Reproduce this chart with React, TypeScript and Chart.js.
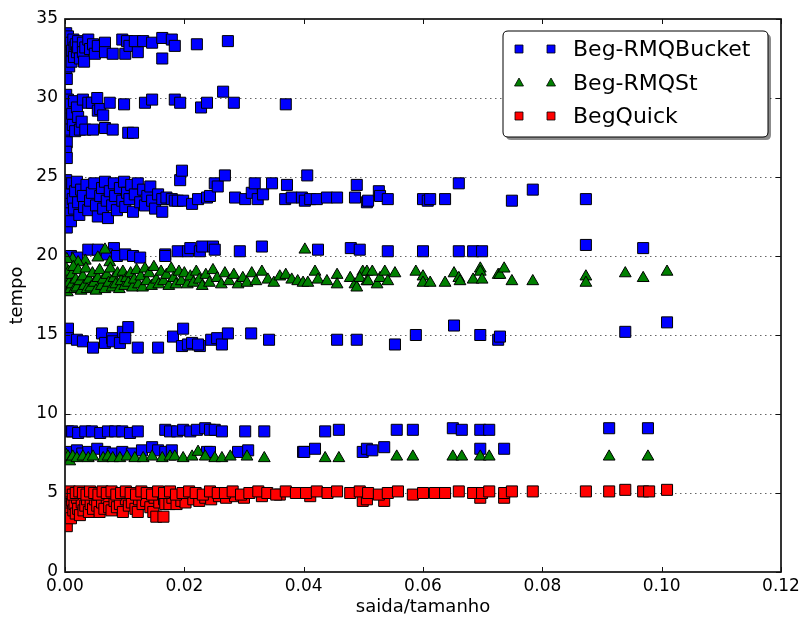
import React, { useEffect, useRef } from 'react';
import { Chart, registerables } from 'chart.js';

Chart.register(...registerables);

type Pt = [number, number];

const seriesLabels = ['Beg-RMQBucket', 'Beg-RMQSt', 'BegQuick'];
const seriesColors = ['#0000ff', '#008000', '#ff0000'];
const xTickValues = [0, 0.02, 0.04, 0.06, 0.08, 0.1, 0.12];
const yTickValues = [0, 5, 10, 15, 20, 25, 30, 35];
const xAxisTitle = 'saida/tamanho';
const yAxisTitle = 'tempo';

// Beg-RMQBucket (blue squares)
const bucketTop: Pt[] = [
  [0.0002, 34.1], [0.0003, 33.6], [0.0002, 33.0], [0.0004, 32.4], [0.0002, 31.8], [0.0003, 31.2],
  [0.0005, 33.9], [0.0006, 33.2], [0.0008, 32.7], [0.0007, 32.0], [0.0010, 33.5], [0.0012, 33.0],
  [0.0011, 32.3], [0.0014, 33.7], [0.0016, 33.2], [0.0015, 32.6], [0.0018, 33.4], [0.0020, 32.9],
  [0.0022, 33.6], [0.0022, 33.2], [0.0025, 32.5], [0.0030, 33.5], [0.0030, 32.9], [0.0032, 32.3],
  [0.0034, 33.2], [0.0039, 33.7], [0.0042, 33.1], [0.0047, 33.4], [0.0050, 32.8], [0.0055, 33.3],
  [0.0067, 33.5], [0.0067, 32.9], [0.0080, 32.8], [0.0096, 33.7], [0.0101, 32.8], [0.0104, 33.6],
  [0.0108, 33.3], [0.0122, 32.9], [0.0117, 33.6], [0.0131, 33.6], [0.0146, 33.5], [0.0163, 33.8],
  [0.0163, 32.5], [0.0179, 33.7], [0.0184, 33.3], [0.0221, 33.4], [0.0273, 33.6],
];
const bucketUpper: Pt[] = [
  [0.0002, 30.2], [0.0003, 29.6], [0.0002, 29.0], [0.0004, 28.4], [0.0002, 27.8], [0.0003, 27.2],
  [0.0002, 26.6], [0.0003, 26.2], [0.0005, 29.9], [0.0006, 29.3], [0.0008, 28.7], [0.0007, 28.0],
  [0.0010, 29.6], [0.0012, 29.0], [0.0013, 28.3], [0.0017, 27.9], [0.0015, 29.8], [0.0020, 29.4],
  [0.0022, 28.8], [0.0025, 28.0], [0.0030, 29.9], [0.0028, 28.5], [0.0034, 28.0], [0.0039, 29.7],
  [0.0045, 29.7], [0.0047, 28.0], [0.0054, 30.0], [0.0055, 29.2], [0.0059, 29.3], [0.0064, 28.9],
  [0.0067, 28.1], [0.0075, 29.7], [0.0080, 28.0], [0.0099, 29.6], [0.0106, 27.8], [0.0114, 27.8],
  [0.0134, 29.7], [0.0146, 29.9], [0.0184, 29.9], [0.0193, 29.7], [0.0228, 29.4], [0.0238, 29.7],
  [0.0265, 30.4], [0.0283, 29.7], [0.0370, 29.6],
];
const bucketMid: Pt[] = [
  [0.0002, 24.8], [0.0003, 24.2], [0.0002, 23.6], [0.0004, 23.0], [0.0002, 22.4], [0.0003, 21.8],
  [0.0005, 24.5], [0.0006, 23.9], [0.0008, 23.3], [0.0007, 22.7], [0.0010, 22.2], [0.0012, 24.6],
  [0.0013, 23.6], [0.0015, 23.0], [0.0017, 24.1], [0.0020, 24.7], [0.0022, 23.4], [0.0024, 22.6],
  [0.0027, 24.2], [0.0030, 23.8], [0.0032, 23.1], [0.0036, 24.5], [0.0039, 22.9], [0.0042, 23.5],
  [0.0045, 24.0], [0.0049, 24.6], [0.0052, 23.2], [0.0055, 22.5], [0.0059, 23.8], [0.0062, 24.3],
  [0.0064, 23.0], [0.0067, 24.7], [0.0070, 23.5], [0.0072, 22.4], [0.0075, 24.1], [0.0079, 23.2],
  [0.0082, 24.6], [0.0084, 23.8], [0.0087, 22.9], [0.0092, 24.3], [0.0096, 23.5], [0.0099, 24.7],
  [0.0101, 23.1], [0.0104, 24.0], [0.0108, 23.6], [0.0111, 24.5], [0.0114, 22.8], [0.0117, 23.9],
  [0.0122, 24.6], [0.0126, 23.4], [0.0131, 24.2], [0.0134, 23.2], [0.0138, 23.8], [0.0143, 24.4],
  [0.0146, 23.5], [0.0151, 23.0], [0.0156, 23.9], [0.0163, 23.6], [0.0163, 22.8], [0.0170, 23.7],
  [0.0179, 23.6], [0.0184, 23.5], [0.0189, 23.5], [0.0193, 24.8], [0.0196, 25.4], [0.0198, 23.5],
  [0.0213, 23.3], [0.0223, 23.6], [0.0238, 23.7], [0.0243, 23.8], [0.0251, 24.6], [0.0256, 24.4],
  [0.0268, 25.1], [0.0285, 23.7], [0.0302, 23.6], [0.0313, 24.0], [0.0318, 24.6], [0.0323, 23.6],
  [0.0332, 23.9], [0.0347, 24.6], [0.0369, 23.6], [0.0372, 24.5], [0.0380, 23.7], [0.0397, 23.7],
  [0.0402, 23.5], [0.0406, 25.1], [0.0411, 23.6], [0.0422, 23.6], [0.0439, 23.7], [0.0456, 23.7],
  [0.0486, 23.7], [0.0489, 24.5], [0.0506, 23.4], [0.0508, 23.5], [0.0526, 24.1], [0.0528, 23.8],
  [0.0541, 23.6], [0.0600, 23.6], [0.0608, 23.5], [0.0612, 23.6], [0.0637, 23.6], [0.0660, 24.6],
  [0.0749, 23.5], [0.0784, 24.2], [0.0873, 23.6],
];
const bucket20: Pt[] = [
  [0.0010, 20.0], [0.0020, 19.9], [0.0039, 20.4], [0.0055, 20.4], [0.0082, 20.5], [0.0070, 20.1],
  [0.0087, 20.0], [0.0101, 20.1], [0.0114, 20.0], [0.0126, 19.9], [0.0168, 20.1], [0.0168, 20.0],
  [0.0189, 20.3], [0.0206, 20.3], [0.0210, 20.5], [0.0226, 20.3], [0.0230, 20.6], [0.0248, 20.6],
  [0.0251, 20.4], [0.0293, 20.3], [0.0330, 20.6], [0.0424, 20.4], [0.0479, 20.5], [0.0494, 20.4],
  [0.0541, 20.3], [0.0600, 20.3], [0.0660, 20.3], [0.0684, 20.3], [0.0699, 20.3], [0.0873, 20.7],
  [0.0969, 20.5],
];
const bucket15: Pt[] = [
  [0.0005, 15.4], [0.0005, 14.8], [0.0020, 14.7], [0.0030, 14.6], [0.0047, 14.2], [0.0062, 15.1],
  [0.0067, 14.5], [0.0079, 14.8], [0.0080, 14.6], [0.0092, 14.5], [0.0097, 15.2], [0.0106, 15.5],
  [0.0101, 14.8], [0.0122, 14.2], [0.0156, 14.2], [0.0181, 14.9], [0.0198, 15.4], [0.0196, 14.3],
  [0.0206, 14.4], [0.0213, 14.5], [0.0226, 14.3], [0.0223, 14.4], [0.0245, 14.7], [0.0255, 14.8],
  [0.0263, 14.4], [0.0273, 15.1], [0.0312, 15.1], [0.0342, 14.7], [0.0456, 14.7], [0.0489, 14.7],
  [0.0553, 14.4], [0.0588, 15.0], [0.0652, 15.6], [0.0696, 15.0], [0.0726, 14.7], [0.0729, 14.9],
  [0.0939, 15.2], [0.1009, 15.8],
];
const bucket9: Pt[] = [
  [0.0005, 8.9], [0.0012, 8.9], [0.0022, 8.8], [0.0034, 8.9], [0.0045, 8.9], [0.0059, 8.8],
  [0.0072, 8.9], [0.0084, 8.9], [0.0096, 8.9], [0.0109, 8.8], [0.0122, 8.9], [0.0168, 9.0],
  [0.0176, 8.9], [0.0188, 8.9], [0.0198, 9.0], [0.0210, 8.9], [0.0221, 9.0], [0.0235, 9.1],
  [0.0243, 9.0], [0.0251, 9.0], [0.0263, 8.9], [0.0302, 8.9], [0.0334, 8.9], [0.0436, 8.9],
  [0.0459, 9.0], [0.0556, 9.0], [0.0583, 9.0], [0.0650, 9.1], [0.0665, 9.0], [0.0696, 9.0],
  [0.0711, 9.0], [0.0912, 9.1], [0.0977, 9.1],
];
const bucket7: Pt[] = [
  [0.0008, 7.6], [0.0020, 7.7], [0.0029, 7.5], [0.0039, 7.6], [0.0054, 7.8], [0.0067, 7.6],
  [0.0080, 7.5], [0.0096, 7.6], [0.0112, 7.5], [0.0129, 7.7], [0.0146, 7.9], [0.0156, 7.7],
  [0.0168, 7.6], [0.0179, 7.7], [0.0238, 7.6], [0.0243, 7.6], [0.0290, 7.6], [0.0307, 7.7],
  [0.0399, 7.6], [0.0401, 7.6], [0.0419, 7.8], [0.0499, 7.6], [0.0506, 7.8], [0.0515, 7.7],
  [0.0535, 7.9], [0.0696, 7.8], [0.0736, 7.8],
];

// Beg-RMQSt (green triangles)
const st18: Pt[] = [
  [0.0067, 20.4], [0.0055, 19.9], [0.0075, 19.6], [0.0034, 19.7], [0.0013, 19.8], [0.0022, 19.6],
  [0.0003, 19.8], [0.0002, 19.2], [0.0003, 18.6], [0.0002, 18.0], [0.0004, 17.7], [0.0006, 19.0],
  [0.0007, 18.3], [0.0009, 17.9], [0.0011, 18.8], [0.0012, 18.2], [0.0014, 19.3], [0.0016, 17.9],
  [0.0018, 18.5], [0.0020, 18.0], [0.0022, 19.1], [0.0025, 18.4], [0.0027, 17.8], [0.0030, 18.7],
  [0.0032, 18.1], [0.0035, 19.2], [0.0037, 17.9], [0.0040, 18.5], [0.0043, 18.0], [0.0046, 18.9],
  [0.0049, 18.3], [0.0052, 17.8], [0.0055, 18.6], [0.0058, 19.1], [0.0061, 18.1], [0.0064, 18.5],
  [0.0067, 17.9], [0.0070, 18.8], [0.0073, 18.3], [0.0076, 19.2], [0.0079, 18.0], [0.0082, 18.6],
  [0.0085, 18.2], [0.0088, 18.9], [0.0091, 17.9], [0.0094, 18.4], [0.0097, 19.0], [0.0100, 18.1],
  [0.0103, 18.6], [0.0106, 18.3], [0.0110, 18.9], [0.0113, 18.0], [0.0116, 18.5], [0.0120, 19.1],
  [0.0123, 18.2], [0.0127, 18.7], [0.0130, 18.0], [0.0134, 19.2], [0.0137, 18.4], [0.0141, 18.9],
  [0.0145, 18.1], [0.0149, 19.3], [0.0153, 18.5], [0.0157, 18.2], [0.0161, 19.0], [0.0165, 18.4],
  [0.0170, 18.8], [0.0174, 18.1], [0.0178, 19.2], [0.0182, 18.6], [0.0186, 18.2], [0.0191, 19.0],
  [0.0195, 18.4], [0.0200, 18.9], [0.0205, 18.2], [0.0210, 18.7], [0.0215, 18.3], [0.0220, 19.0],
  [0.0225, 18.5], [0.0230, 18.1], [0.0236, 18.8], [0.0242, 18.3], [0.0248, 19.1], [0.0255, 18.6],
  [0.0262, 18.2], [0.0268, 18.9], [0.0275, 18.4], [0.0283, 18.8], [0.0290, 18.2], [0.0298, 18.6],
  [0.0305, 18.3], [0.0313, 18.9], [0.0320, 18.4], [0.0330, 19.0], [0.0340, 18.5], [0.0350, 18.3],
  [0.0360, 18.7], [0.0370, 18.8], [0.0380, 18.5], [0.0390, 18.4], [0.0399, 18.3], [0.0407, 18.3],
  [0.0402, 20.4], [0.0419, 19.0], [0.0424, 18.5], [0.0439, 18.4], [0.0456, 18.8], [0.0456, 18.2],
  [0.0478, 18.6], [0.0486, 18.2], [0.0489, 18.0], [0.0499, 19.0], [0.0506, 19.0], [0.0515, 19.0],
  [0.0494, 18.6], [0.0506, 18.4], [0.0508, 18.4], [0.0523, 18.2], [0.0528, 18.6], [0.0536, 19.0],
  [0.0541, 18.4], [0.0553, 18.9], [0.0588, 19.0], [0.0600, 18.7], [0.0600, 18.3], [0.0612, 18.3],
  [0.0637, 18.3], [0.0652, 18.9], [0.0660, 18.6], [0.0662, 18.4], [0.0684, 18.5], [0.0696, 19.2],
  [0.0696, 19.0], [0.0699, 18.5], [0.0726, 18.8], [0.0729, 18.8], [0.0736, 19.2], [0.0749, 18.4],
  [0.0784, 18.4], [0.0873, 18.7], [0.0873, 18.3], [0.0939, 18.9], [0.0969, 18.6], [0.1009, 19.0],
];
const st7: Pt[] = [
  [0.0002, 7.4], [0.0003, 7.1], [0.0005, 7.3], [0.0008, 7.0], [0.0013, 7.3], [0.0020, 7.2],
  [0.0030, 7.3], [0.0039, 7.2], [0.0047, 7.3], [0.0064, 7.2], [0.0072, 7.3], [0.0080, 7.2],
  [0.0092, 7.2], [0.0104, 7.3], [0.0117, 7.2], [0.0131, 7.2], [0.0146, 7.3], [0.0163, 7.2],
  [0.0176, 7.3], [0.0184, 7.3], [0.0198, 7.2], [0.0213, 7.3], [0.0223, 7.6], [0.0235, 7.3],
  [0.0251, 7.2], [0.0263, 7.2], [0.0277, 7.3], [0.0305, 7.3], [0.0334, 7.2], [0.0436, 7.2],
  [0.0459, 7.2], [0.0556, 7.3], [0.0583, 7.3], [0.0650, 7.3], [0.0665, 7.3], [0.0696, 7.3],
  [0.0711, 7.3], [0.0912, 7.3], [0.0977, 7.3],
];

// BegQuick (red squares)
const quickLow: Pt[] = [
  [0.0002, 4.8], [0.0003, 4.4], [0.0002, 4.0], [0.0004, 3.6], [0.0002, 3.2], [0.0003, 2.9],
  [0.0006, 4.6], [0.0008, 4.1], [0.0007, 3.7], [0.0010, 3.4], [0.0012, 4.5], [0.0014, 3.9],
  [0.0016, 4.3], [0.0018, 3.7], [0.0020, 4.7], [0.0022, 4.0], [0.0025, 3.6], [0.0028, 4.4],
  [0.0031, 3.9], [0.0034, 4.2], [0.0037, 4.6], [0.0040, 3.8], [0.0043, 4.3], [0.0047, 4.0],
  [0.0050, 4.6], [0.0054, 4.2], [0.0058, 3.8], [0.0062, 4.4], [0.0066, 4.0], [0.0070, 4.7],
  [0.0074, 4.1], [0.0078, 3.9], [0.0083, 4.5], [0.0087, 4.1], [0.0092, 4.3], [0.0097, 3.8],
  [0.0102, 4.6], [0.0107, 4.2], [0.0112, 4.4], [0.0118, 4.0], [0.0122, 3.8], [0.0124, 4.6],
  [0.0130, 4.3], [0.0136, 4.5], [0.0143, 4.1], [0.0148, 3.8], [0.0150, 4.7], [0.0153, 3.5],
  [0.0158, 4.4], [0.0165, 3.5], [0.0166, 4.6], [0.0168, 4.3], [0.0175, 4.3], [0.0180, 4.7],
  [0.0187, 4.3], [0.0195, 4.5], [0.0202, 4.4], [0.0215, 4.6], [0.0225, 4.5], [0.0235, 4.7],
  [0.0245, 4.6], [0.0258, 4.8], [0.0270, 4.7], [0.0285, 4.8], [0.0300, 4.7], [0.0330, 4.8],
  [0.0360, 4.9], [0.0411, 4.8], [0.0499, 4.5], [0.0506, 4.6], [0.0535, 4.5], [0.0696, 4.7],
  [0.0736, 4.7],
];
const quickTop: Pt[] = [
  [0.0003, 5.0], [0.0008, 5.1], [0.0013, 4.9], [0.0018, 5.0], [0.0024, 5.1], [0.0030, 5.0],
  [0.0036, 4.9], [0.0042, 5.1], [0.0049, 5.0], [0.0056, 4.9], [0.0063, 5.1], [0.0070, 5.0],
  [0.0078, 5.1], [0.0086, 4.9], [0.0094, 5.0], [0.0102, 5.1], [0.0110, 5.0], [0.0119, 4.9],
  [0.0128, 5.1], [0.0137, 5.0], [0.0146, 4.9], [0.0156, 5.1], [0.0166, 5.0], [0.0176, 5.1],
  [0.0186, 4.9], [0.0197, 5.0], [0.0208, 5.1], [0.0219, 5.0], [0.0231, 4.9], [0.0243, 5.1],
  [0.0256, 5.0], [0.0268, 5.0], [0.0281, 5.1], [0.0295, 4.9], [0.0309, 5.0], [0.0324, 5.1],
  [0.0339, 5.0], [0.0354, 4.9], [0.0370, 5.1], [0.0387, 5.0], [0.0404, 5.0], [0.0422, 5.1],
  [0.0440, 5.0], [0.0456, 5.1], [0.0478, 5.0], [0.0494, 5.1], [0.0508, 5.0], [0.0526, 4.9],
  [0.0541, 5.0], [0.0558, 5.1], [0.0583, 4.9], [0.0600, 5.0], [0.0620, 5.0], [0.0637, 5.0],
  [0.0660, 5.1], [0.0684, 5.0], [0.0699, 5.0], [0.0711, 5.1], [0.0736, 5.0], [0.0749, 5.1],
  [0.0784, 5.1], [0.0873, 5.1], [0.0912, 5.1], [0.0939, 5.2], [0.0969, 5.1], [0.0979, 5.1],
  [0.1009, 5.2],
];

const bucketPoints = [...bucketTop, ...bucketUpper, ...bucketMid, ...bucket20, ...bucket15, ...bucket9, ...bucket7];
const stPoints = [...st18, ...st7];
const quickPoints = [...quickLow, ...quickTop];

const FONT = '"DejaVu Sans", sans-serif';

const toXY = (pts: Pt[]) => pts.map(([x, y]) => ({ x, y }));

const decorPlugin = {
  id: 'decor',
  beforeDatasetsDraw(chart: any) {
    const { ctx, chartArea: a, scales } = chart;
    ctx.save();
    ctx.strokeStyle = 'rgba(0,0,0,0.6)';
    ctx.lineWidth = 1;
    ctx.setLineDash([1.5, 3.5]);
    for (const v of yTickValues) {
      const y = Math.round(scales.y.getPixelForValue(v)) + 0.5;
      if (y <= a.top + 1 || y >= a.bottom - 1) continue;
      ctx.beginPath();
      ctx.moveTo(a.left, y);
      ctx.lineTo(a.right, y);
      ctx.stroke();
    }
    ctx.restore();
  },
  afterDraw(chart: any) {
    const { ctx, chartArea: a, scales } = chart;
    ctx.save();
    ctx.strokeStyle = '#111';
    ctx.lineWidth = 1.7;
    ctx.strokeRect(a.left, a.top, a.right - a.left, a.bottom - a.top);
    ctx.lineWidth = 1;
    ctx.beginPath();
    for (const v of xTickValues) {
      const x = Math.round(scales.x.getPixelForValue(v)) + 0.5;
      ctx.moveTo(x, a.bottom);
      ctx.lineTo(x, a.bottom - 5);
      ctx.moveTo(x, a.top);
      ctx.lineTo(x, a.top + 5);
    }
    for (const v of yTickValues) {
      const y = Math.round(scales.y.getPixelForValue(v)) + 0.5;
      ctx.moveTo(a.left, y);
      ctx.lineTo(a.left + 5, y);
      ctx.moveTo(a.right, y);
      ctx.lineTo(a.right - 5, y);
    }
    ctx.stroke();

    // legend
    const bx = 503, by = 31, bw = 265, bh = 106, r = 5;
    const rr = (x: number, y: number) => {
      ctx.beginPath();
      ctx.moveTo(x + r, y);
      ctx.lineTo(x + bw - r, y);
      ctx.quadraticCurveTo(x + bw, y, x + bw, y + r);
      ctx.lineTo(x + bw, y + bh - r);
      ctx.quadraticCurveTo(x + bw, y + bh, x + bw - r, y + bh);
      ctx.lineTo(x + r, y + bh);
      ctx.quadraticCurveTo(x, y + bh, x, y + bh - r);
      ctx.lineTo(x, y + r);
      ctx.quadraticCurveTo(x, y, x + r, y);
      ctx.closePath();
    };
    ctx.fillStyle = 'rgba(0,0,0,0.45)';
    rr(bx + 3, by + 3);
    ctx.fill();
    ctx.fillStyle = '#fff';
    rr(bx, by);
    ctx.fill();
    ctx.strokeStyle = '#000';
    ctx.lineWidth = 1;
    ctx.stroke();

    const rowsY = [49, 83, 116];
    const styles = ['rect', 'triangle', 'rect'];
    chart.data.datasets.forEach((ds: any, i: number) => {
      const cy = rowsY[i];
      for (const mx of [519, 551]) {
        ctx.fillStyle = ds.backgroundColor;
        ctx.strokeStyle = '#000';
        ctx.lineWidth = 0.8;
        ctx.beginPath();
        if (styles[i] === 'rect') {
          ctx.rect(mx - 4, cy - 4, 8, 8);
        } else {
          ctx.moveTo(mx, cy - 5);
          ctx.lineTo(mx + 4.5, cy + 3);
          ctx.lineTo(mx - 4.5, cy + 3);
          ctx.closePath();
        }
        ctx.fill();
        ctx.stroke();
      }
      ctx.fillStyle = '#000';
      ctx.font = `22px ${FONT}`;
      ctx.textBaseline = 'middle';
      ctx.textAlign = 'left';
      ctx.fillText(ds.label, 573, cy + 1);
    });
    ctx.restore();
  },
};

export default function App() {
  const canvasRef = useRef<HTMLCanvasElement | null>(null);

  useEffect(() => {
    const canvas = canvasRef.current;
    if (!canvas) return;
    const chart = new Chart(canvas, {
      type: 'scatter',
      data: {
        datasets: [
          {
            label: seriesLabels[0],
            data: toXY(bucketPoints),
            backgroundColor: seriesColors[0],
            borderColor: '#000',
            borderWidth: 1,
            pointStyle: 'rect',
            pointRadius: 7.8,
            order: 3,
            clip: 0,
          },
          {
            label: seriesLabels[1],
            data: toXY(stPoints),
            backgroundColor: seriesColors[1],
            borderColor: '#000',
            borderWidth: 1,
            pointStyle: 'triangle',
            pointRadius: 6.8,
            order: 2,
            clip: 0,
          },
          {
            label: seriesLabels[2],
            data: toXY(quickPoints),
            backgroundColor: seriesColors[2],
            borderColor: '#000',
            borderWidth: 1,
            pointStyle: 'rect',
            pointRadius: 7.8,
            order: 1,
            clip: 0,
          },
        ] as any,
      },
      options: {
        responsive: true,
        maintainAspectRatio: false,
        animation: false,
        events: [],
        layout: { padding: { top: 19, right: 19, left: 0, bottom: 0 } },
        plugins: {
          legend: { display: false },
          tooltip: { enabled: false },
        },
        scales: {
          x: {
            type: 'linear',
            min: 0,
            max: 0.12,
            grid: { display: false, drawTicks: false },
            border: { display: false },
            ticks: {
              stepSize: 0.02,
              autoSkip: false,
              maxRotation: 0,
              padding: 4,
              color: '#000',
              font: { family: FONT, size: 17 },
              callback: (v: any) => Number(v).toFixed(2),
            },
            title: {
              display: true,
              text: xAxisTitle,
              color: '#000',
              font: { family: FONT, size: 18 },
              padding: { top: 0, bottom: 0 },
            },
            afterFit: (s: any) => {
              s.height = 46;
              s.paddingLeft = 0;
              s.paddingRight = 0;
            },
          },
          y: {
            type: 'linear',
            min: 0,
            max: 35,
            grid: { display: false, drawTicks: false },
            border: { display: false },
            ticks: {
              stepSize: 5,
              padding: 7,
              color: '#000',
              font: { family: FONT, size: 17 },
            },
            title: {
              display: true,
              text: yAxisTitle,
              color: '#000',
              font: { family: FONT, size: 18 },
              padding: { top: 7, bottom: 0 },
            },
            afterFit: (s: any) => {
              s.width = 65;
              s.paddingTop = 0;
              s.paddingBottom = 0;
            },
          },
        },
      } as any,
      plugins: [decorPlugin],
    });
    return () => chart.destroy();
  }, []);

  return (
    <div style={{ position: 'absolute', left: 0, top: 0, width: 800, height: 618, background: '#fff' }}>
      <canvas ref={canvasRef} />
    </div>
  );
}
